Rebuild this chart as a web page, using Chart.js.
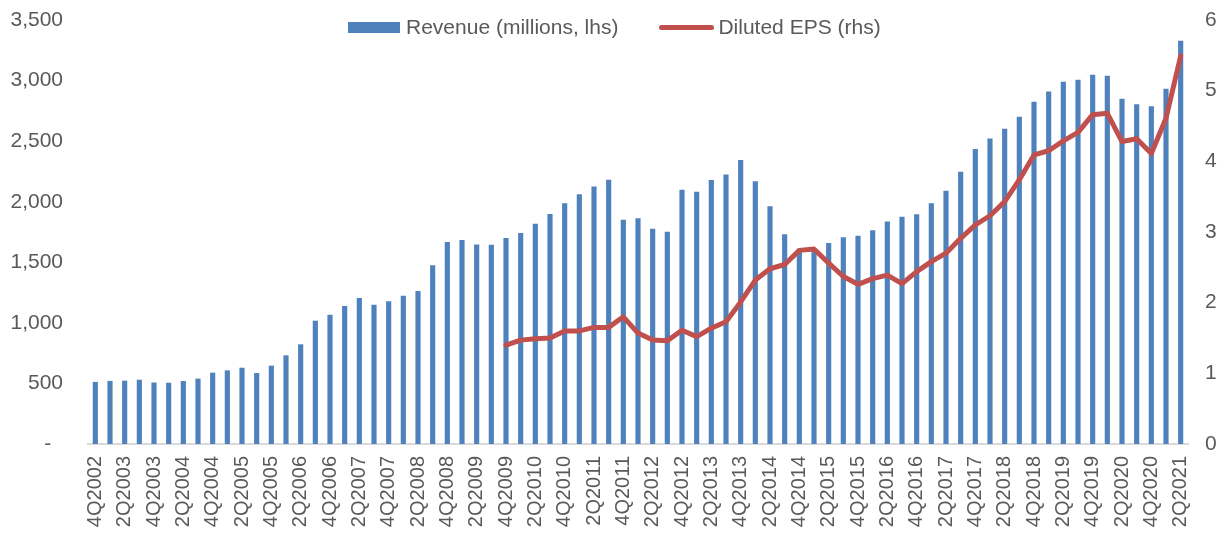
<!DOCTYPE html>
<html>
<head>
<meta charset="utf-8">
<script src="https://cdn.jsdelivr.net/npm/chart.js@4/dist/chart.umd.min.js"></script>
<style>
  body { margin: 0; background: #fff; }
  #wrap { position: relative; width: 1224px; height: 536px; }
  #legend { position: absolute; top: 14px; left: 348px; font-family: "Liberation Sans", Arial, sans-serif;
            font-size: 21px; line-height: 26px; color: #595959; display: flex; align-items: center; white-space: nowrap; }
  .sw-bar { display: inline-block; width: 52px; height: 11px; background: #4F81BD; margin-right: 6px; }
  .sw-line { display: inline-block; width: 55px; height: 5px; border-radius: 3px; background: #C0504D; margin: 0 4px 0 41px; }
</style>
</head>
<body>
<div id="wrap">
  <canvas id="chart" width="1224" height="536"></canvas>
  <div id="legend">
    <span class="sw-bar"></span><span>Revenue (millions, lhs)</span>
    <span class="sw-line"></span><span>Diluted EPS (rhs)</span>
  </div>
</div>
<script>
const quarters = [
  '4Q2002','1Q2003','2Q2003','3Q2003','4Q2003','1Q2004','2Q2004','3Q2004','4Q2004',
  '1Q2005','2Q2005','3Q2005','4Q2005','1Q2006','2Q2006','3Q2006','4Q2006',
  '1Q2007','2Q2007','3Q2007','4Q2007','1Q2008','2Q2008','3Q2008','4Q2008',
  '1Q2009','2Q2009','3Q2009','4Q2009','1Q2010','2Q2010','3Q2010','4Q2010',
  '1Q2011','2Q2011','3Q2011','4Q2011','1Q2012','2Q2012','3Q2012','4Q2012',
  '1Q2013','2Q2013','3Q2013','4Q2013','1Q2014','2Q2014','3Q2014','4Q2014',
  '1Q2015','2Q2015','3Q2015','4Q2015','1Q2016','2Q2016','3Q2016','4Q2016',
  '1Q2017','2Q2017','3Q2017','4Q2017','1Q2018','2Q2018','3Q2018','4Q2018',
  '1Q2019','2Q2019','3Q2019','4Q2019','1Q2020','2Q2020','3Q2020','4Q2020',
  '1Q2021','2Q2021'
]

// revenue, millions (left axis)
const revenue = [
  510,518,520,528,505,503,517,537,586,605,
  627,583,644,729,820,1015,1065,1137,1203,1147,
  1175,1222,1260,1472,1665,1681,1645,1643,1698,1739,
  1816,1896,1984,2058,2122,2179,1849,1860,1775,1750,
  2097,2080,2177,2221,2342,2166,1959,1728,1610,1600,
  1657,1703,1717,1761,1833,1874,1893,1984,2088,2245,
  2433,2520,2600,2699,2823,2908,2988,3005,3046,3038,
  2848,2801,2785,2930,3327
]

// diluted EPS (right axis), starts at 4Q2009
const eps = [
  null,null,null,null,null,null,null,null,null,null,
  null,null,null,null,null,null,null,null,null,null,
  null,null,null,null,null,null,null,null,
  1.40,1.47,1.49,1.50,1.60,1.60,1.65,1.65,1.80,1.57,
  1.47,1.46,1.61,1.52,1.64,1.73,2.01,2.32,2.48,2.54,
  2.74,2.76,2.56,2.37,2.26,2.34,2.39,2.27,2.44,2.58,
  2.70,2.91,3.10,3.23,3.43,3.74,4.09,4.15,4.29,4.41,
  4.66,4.68,4.28,4.32,4.11,4.61,5.49
]

const textColor = '#595959'
const fontFamily = '"Liberation Sans", Arial, sans-serif'

new Chart(document.getElementById('chart'), {
  type: 'bar',
  data: {
    labels: quarters,
    datasets: [
      {
        label: 'Revenue (millions, lhs)',
        data: revenue,
        backgroundColor: '#4F81BD',
        barThickness: 4.5,
        yAxisID: 'y',
        order: 1
      },
      {
        type: 'line',
        label: 'Diluted EPS (rhs)',
        data: eps,
        borderColor: '#C0504D',
        backgroundColor: '#C0504D',
        borderWidth: 5,
        borderJoinStyle: 'round',
        borderCapStyle: 'round',
        pointRadius: 0,
        tension: 0,
        yAxisID: 'y1',
        order: 0
      }
    ]
  },
  options: {
    responsive: false,
    animation: false,
    layout: { padding: { top: 20, left: 0, right: 0, bottom: 0 } },
    plugins: {
      legend: { display: false },
      tooltip: { enabled: false }
    },
    scales: {
      x: {
        grid: { display: false, drawTicks: false },
        border: { display: true, color: '#D9D9D9', width: 2 },
        ticks: {
          autoSkip: false,
          maxRotation: 90,
          minRotation: 90,
          padding: 12,
          color: textColor,
          font: { family: fontFamily, size: 20 },
          callback: function (val, idx) {
            return idx % 2 === 0 ? this.getLabelForValue(val) : ''
          }
        },
        afterFit: s => { s.height = 92; s.paddingLeft = 0; s.paddingRight = 0 }
      },
      y: {
        position: 'left',
        min: 0,
        max: 3500,
        grid: { display: false, drawTicks: false },
        border: { display: false },
        ticks: {
          stepSize: 500,
          padding: 25,
          color: textColor,
          font: { family: fontFamily, size: 21 },
          callback: v => v === 0 ? '-  ' : v.toLocaleString('en-US')
        },
        afterFit: s => { s.width = 88; s.paddingTop = 0; s.paddingBottom = 0 }
      },
      y1: {
        position: 'right',
        min: 0,
        max: 6,
        grid: { display: false, drawTicks: false },
        border: { display: false },
        ticks: {
          stepSize: 1,
          padding: 17,
          color: textColor,
          font: { family: fontFamily, size: 21 }
        },
        afterFit: s => { s.width = 36; s.paddingTop = 0; s.paddingBottom = 0 }
      }
    }
  }
})
</script>
</body>
</html>
